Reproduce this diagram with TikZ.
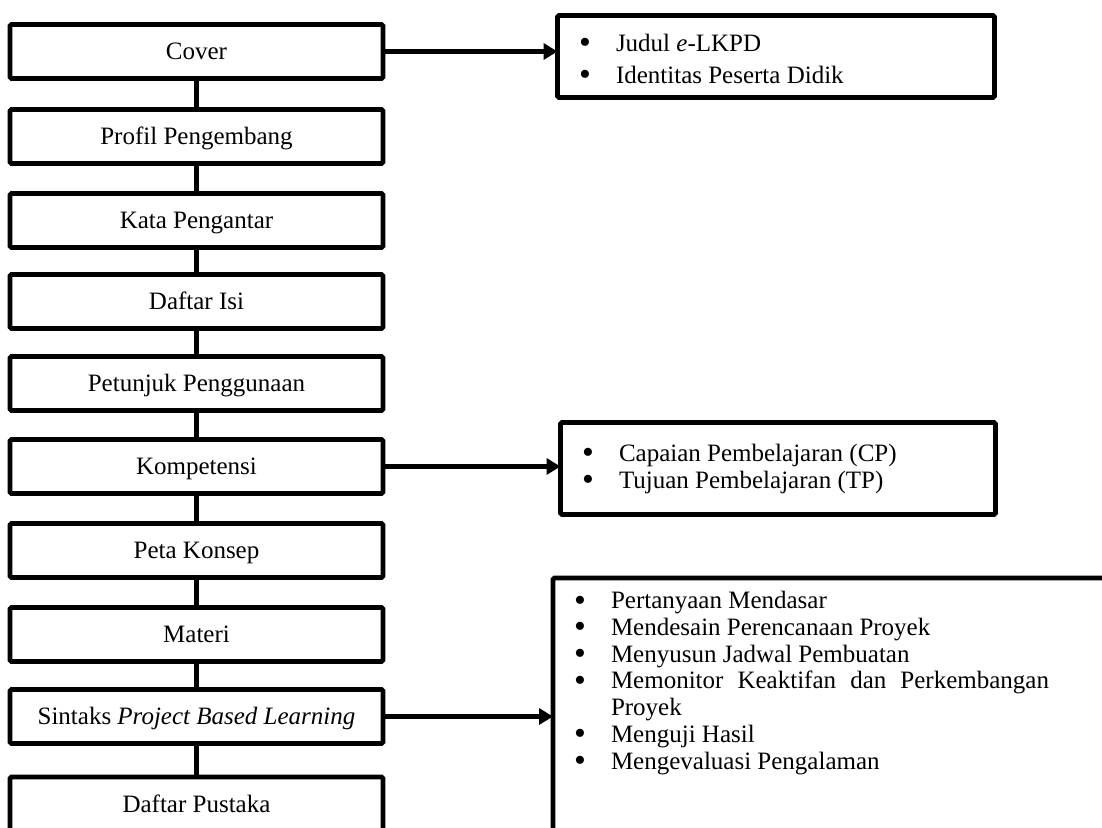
\documentclass[tikz,border=0pt]{standalone}
\usepackage{fontspec}
\usepackage{graphicx}
\setmainfont{Liberation Serif}
\usetikzlibrary{arrows.meta}
\newcommand\bul{\makebox[37pt][l]{\smash{\raisebox{-0.09em}{\scalebox{1.35}{\textbullet}}}}}
\begin{document}
\begin{tikzpicture}[x=1pt,y=-1pt,
  every node/.style={inner sep=0pt, outer sep=0pt},
  lbox/.style={draw, line width=4.8pt, rounded corners=1.5pt, minimum width=373pt, minimum height=54pt, text height=16.5pt, text depth=0pt, font=\fontsize{25}{30}\selectfont},
  rbox/.style={draw, line width=4.8pt, rounded corners=1.5pt},
  link/.style={line width=5pt},
  arr/.style={line width=5pt, -{Triangle[length=14pt,width=16pt]}},
  lst/.style={anchor=base west, align=left, font=\fontsize{25}{#1}\selectfont}
]
\useasboundingbox (0,0) rectangle (1102,827);
\clip (0,0) rectangle (1102,827);

% left column
\node[lbox] (cover)    at (196.5,51.5)  {Cover};
\node[lbox] (profil)   at (196.5,136.5) {Profil Pengembang};
\node[lbox] (kata)     at (196.5,220.5) {Kata Pengantar};
\node[lbox] (isi)      at (196.5,301.5) {Daftar Isi};
\node[lbox] (petunjuk) at (196.5,383.5) {Petunjuk Penggunaan};
\node[lbox] (komp)     at (196.5,466.5) {Kompetensi};
\node[lbox] (peta)     at (196.5,550.5) {Peta Konsep};
\node[lbox] (materi)   at (196.5,634.5) {Materi};
\node[lbox] (sintaks)  at (196.5,716.5) {Sintaks \emph{Project Based Learning}};
\node[lbox] (pustaka)  at (196.5,804)   {Daftar Pustaka};

\draw[link] (cover.south) -- (profil.north);
\draw[link] (profil.south) -- (kata.north);
\draw[link] (kata.south) -- (isi.north);
\draw[link] (isi.south) -- (petunjuk.north);
\draw[link] (petunjuk.south) -- (komp.north);
\draw[link] (komp.south) -- (peta.north);
\draw[link] (peta.south) -- (materi.north);
\draw[link] (materi.south) -- (sintaks.north);
\draw[link] (sintaks.south) -- (pustaka.north);

% right boxes
\node[rbox, minimum width=437pt, minimum height=82pt] (r1) at (776,56.5) {};
\node[rbox, minimum width=435pt, minimum height=92pt] (r2) at (778,468.5) {};
\node[rbox, minimum width=600pt, minimum height=290pt] (r3) at (853,723) {};

\node[lst=32] (r1t) at (579,83) {\bul Judul \emph{e}-LKPD\\ \bul Identitas Peserta Didik};
\node[lst=27] (r2t) at (582,488) {\bul Capaian Pembelajaran (CP)\\ \bul Tujuan Pembelajaran (TP)};
\node[lst=26.7] (r3t) at (574,769) {\bul Pertanyaan Mendasar\\
  \bul Mendesain Perencanaan Proyek\\
  \bul Menyusun Jadwal Pembuatan\\
  \bul\hbox to 438pt{Memonitor\hfill Keaktifan\hfill dan\hfill Perkembangan}\\
  \makebox[37pt]{}Proyek\\
  \bul Menguji Hasil\\
  \bul Mengevaluasi Pengalaman};

% arrows
\draw[arr] (cover.east) -- (cover.east -| r1.west);
\draw[arr] (komp.east) -- (komp.east -| r2.west);
\draw[arr] (sintaks.east) -- (sintaks.east -| r3.west);
\end{tikzpicture}
\end{document}
